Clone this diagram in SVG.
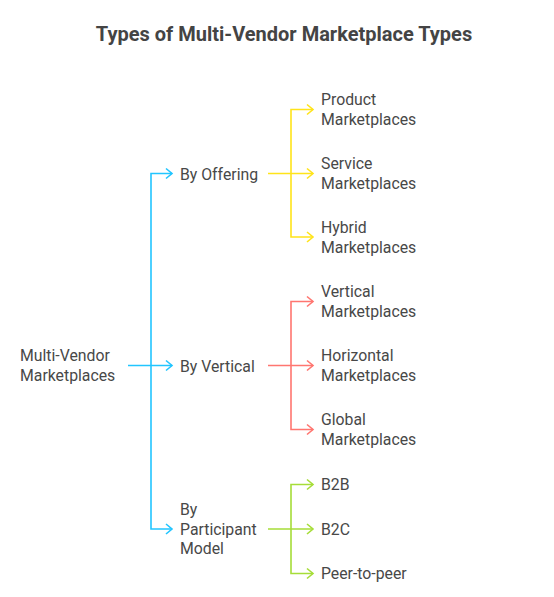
<svg xmlns="http://www.w3.org/2000/svg" width="554" height="597" viewBox="0 0 554 597">
<style>
text{font-family:Roboto,"Liberation Sans",sans-serif;fill:#484848;font-size:15.8px}
.t{font-size:20px;font-weight:bold;fill:#444}
.l{fill:none;stroke-width:1.6}
.b{stroke:#22c5ff}.y{stroke:#ffe41a}.r{stroke:#ff7670}.g{stroke:#a6dd38}
</style>
<rect width="554" height="597" fill="#fff"/>
<text class="t" x="284" y="41" text-anchor="middle">Types of Multi-Vendor Marketplace Types</text>
<g id="connectors">
<path class="l b" d="M128 365.5H172M172 173.5H151V529H172"/>
<path class="l b" d="M166 168.5L172 173.5L166 178.5M166 360.5L172 365.5L166 370.5M166 524L172 529L166 534"/>
<path class="l y" d="M268 173.5H313M313 109.5H291V237H313"/>
<path class="l y" d="M307 104.5L313 109.5L307 114.5M307 168.5L313 173.5L307 178.5M307 232L313 237L307 242"/>
<path class="l r" d="M268 365.5H313M313 301.5H291V429.5H313"/>
<path class="l r" d="M307 296.5L313 301.5L307 306.5M307 360.5L313 365.5L307 370.5M307 424.5L313 429.5L307 434.5"/>
<path class="l g" d="M268 529H313M313 484.5H291V573.5H313"/>
<path class="l g" d="M307 479.5L313 484.5L307 489.5M307 524L313 529L307 534M307 568.5L313 573.5L307 578.5"/>
</g>
<g id="root"><text x="20" y="360.5">Multi-Vendor</text><text x="20" y="380.5">Marketplaces</text></g>
<g id="by-offering"><text x="180" y="179.5">By Offering</text></g>
<g id="by-vertical"><text x="180" y="371.5">By Vertical</text></g>
<g id="by-participant"><text x="180" y="514.5">By</text><text x="180" y="534.5">Participant</text><text x="180" y="553.5">Model</text></g>
<g id="product"><text x="321" y="104.5">Product</text><text x="321" y="124.5">Marketplaces</text></g>
<g id="service"><text x="321" y="168.5">Service</text><text x="321" y="188.5">Marketplaces</text></g>
<g id="hybrid"><text x="321" y="232.5">Hybrid</text><text x="321" y="252.5">Marketplaces</text></g>
<g id="vertical"><text x="321" y="296.5">Vertical</text><text x="321" y="316.5">Marketplaces</text></g>
<g id="horizontal"><text x="321" y="360.5">Horizontal</text><text x="321" y="380.5">Marketplaces</text></g>
<g id="global"><text x="321" y="424.5">Global</text><text x="321" y="444.5">Marketplaces</text></g>
<g id="b2b"><text x="321" y="489.5">B2B</text></g>
<g id="b2c"><text x="321" y="534.5">B2C</text></g>
<g id="p2p"><text x="321" y="578.5">Peer-to-peer</text></g>
</svg>
